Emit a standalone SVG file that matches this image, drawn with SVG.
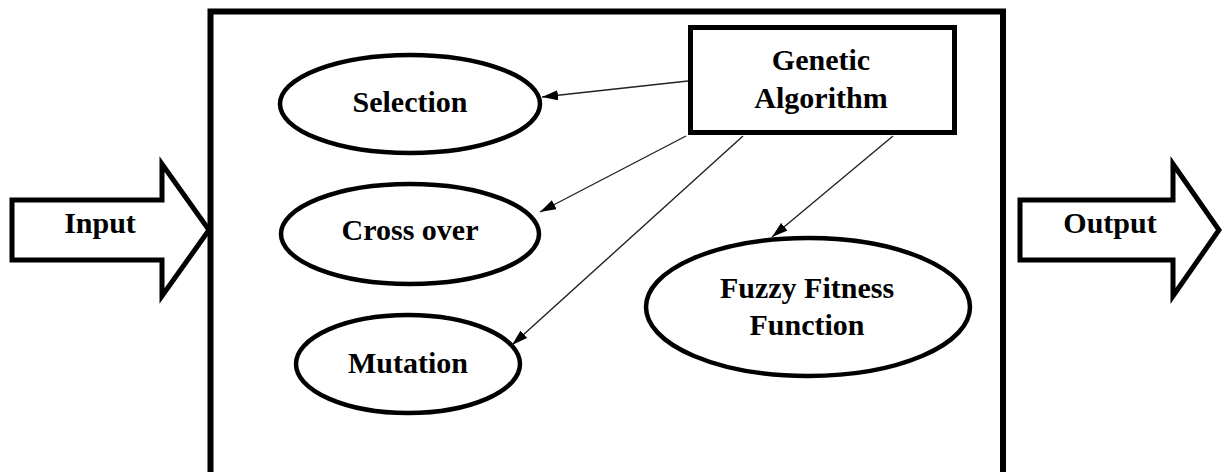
<svg xmlns="http://www.w3.org/2000/svg" width="1222" height="472" viewBox="0 0 1222 472">
  <style>
    .lbl { font-family: "Liberation Serif", "Times New Roman", serif; font-weight: bold; font-size: 30px; fill: #000; text-anchor: middle; }
    .shape { fill: #fff; stroke: #000; }
    .ell { stroke-width: 4.5; }
    .link { stroke: #222; stroke-width: 1.4; fill: none; marker-end: url(#tip); }
  </style>
  <defs>
    <marker id="tip" markerUnits="userSpaceOnUse" viewBox="0 0 16 10" refX="16" refY="5" markerWidth="16" markerHeight="10" orient="auto">
      <path d="M0,0 L16,5 L0,10 Z" fill="#000"/>
    </marker>
  </defs>
  <rect width="1222" height="472" fill="#fff"/>

  <!-- enclosing system box, open at the bottom edge -->
  <g id="system">
    <rect class="shape" x="210.5" y="11.5" width="792.5" height="500" stroke-width="6"/>
  </g>

  <g id="input">
    <polygon class="shape" stroke-width="5" points="12,200 162,200 162,164 209,230 162,296 162,260 12,260"/>
    <text class="lbl" x="100" y="233">Input</text>
  </g>

  <g id="output">
    <polygon class="shape" stroke-width="5" points="1020,200 1173,200 1173,164 1219,230 1173,296 1173,260 1020,260"/>
    <text class="lbl" x="1110" y="233">Output</text>
  </g>

  <g id="genetic-algorithm">
    <rect class="shape" x="690.5" y="27.5" width="264" height="105" stroke-width="5"/>
    <text class="lbl" x="821" y="70">Genetic</text>
    <text class="lbl" x="821" y="108">Algorithm</text>
  </g>

  <g id="selection">
    <ellipse class="shape ell" cx="410" cy="104" rx="130" ry="49"/>
    <text class="lbl" x="410" y="112">Selection</text>
  </g>

  <g id="crossover">
    <ellipse class="shape ell" cx="410" cy="234" rx="129" ry="50"/>
    <text class="lbl" x="410" y="240">Cross over</text>
  </g>

  <g id="mutation">
    <ellipse class="shape ell" cx="408" cy="364" rx="112" ry="49"/>
    <text class="lbl" x="408" y="373">Mutation</text>
  </g>

  <g id="fuzzy-fitness">
    <ellipse class="shape ell" cx="808" cy="307" rx="162" ry="69"/>
    <text class="lbl" x="807" y="298">Fuzzy Fitness</text>
    <text class="lbl" x="807" y="335">Function</text>
  </g>

  <g id="connectors">
    <line class="link" x1="688" y1="81" x2="542" y2="97"/>
    <line class="link" x1="686" y1="136" x2="540" y2="212"/>
    <line class="link" x1="743" y1="136" x2="512" y2="345"/>
    <line class="link" x1="893" y1="136" x2="772" y2="237"/>
  </g>
</svg>
